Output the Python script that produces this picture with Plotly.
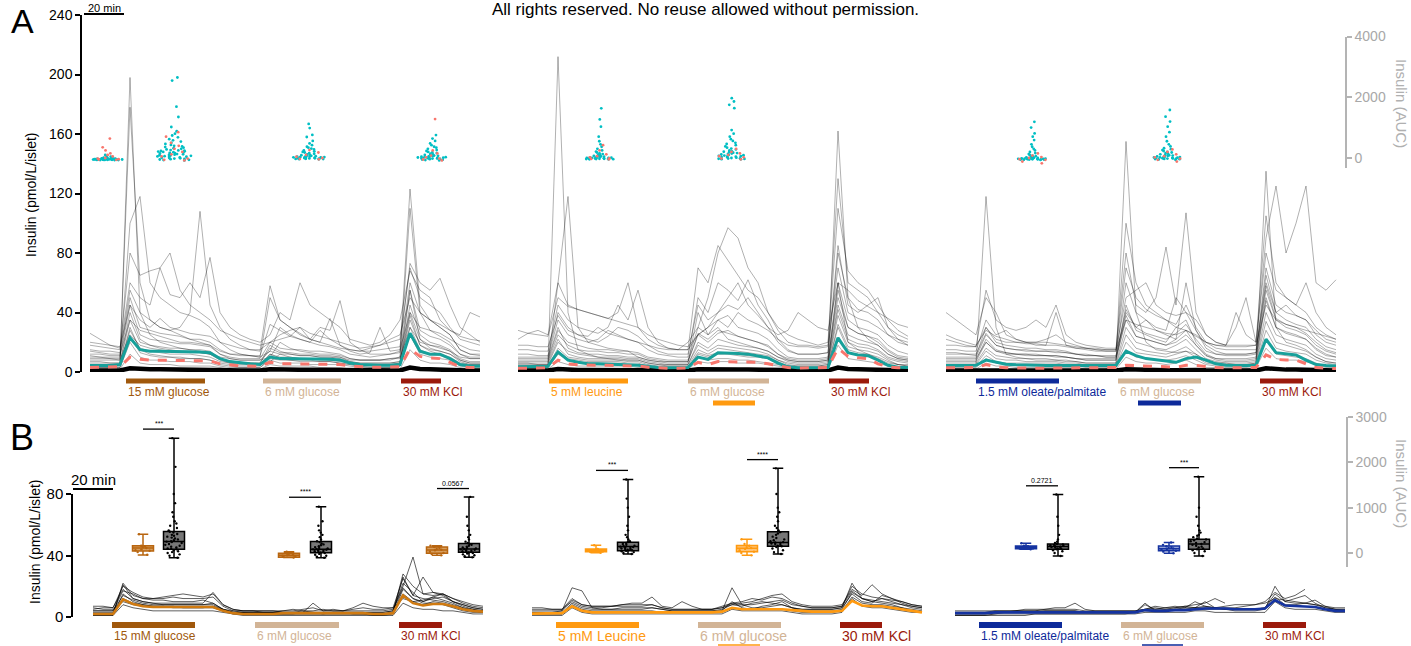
import plotly.graph_objects as go

W, H = 1411, 646
def fx(px): return px / W
def fy(px): return 1 - px / H

FONT = "Arial, Liberation Sans, sans-serif"

# ---------------- time grid (minutes) ----------------
t = list(range(0, 200, 5))          # 40 samples per experiment
a_t0 = [45, 259, 473]               # start of each experiment on the shared time axis (panel A)
b_t0 = [46.5, 266, 477.5]           # panel B

# ---------------- panel A : individual islet traces (pmol/L/islet) ----------------
a1_traces = [
    [5,5,5,5,198,40,25,20,18,16,15,14,12,9,7,6,6,5,7,12,10,9,9,8,8,7,6,5,5,5,5,6,55,22,16,14,12,8,6,6],
    [8,8,8,8,178,60,35,30,28,25,22,20,18,12,9,8,8,8,10,20,16,14,13,12,12,11,9,8,8,8,8,10,110,40,28,24,20,12,9,9],
    [10,10,9,9,100,118,60,50,45,40,38,35,30,20,15,12,11,10,14,30,25,22,20,18,17,15,12,11,10,11,12,14,123,45,35,30,25,15,12,11],
    [26,22,18,16,60,50,45,70,80,55,45,40,35,28,25,22,20,18,20,25,28,30,26,24,22,18,15,14,16,18,20,22,70,50,45,40,30,22,20,18],
    [15,14,14,13,55,40,35,30,28,30,40,108,45,30,22,18,15,14,58,35,30,26,22,20,18,16,15,14,14,15,16,17,73,60,55,63,45,30,25,20],
    [18,17,16,15,80,65,68,70,52,50,60,50,77,40,30,25,22,20,25,40,35,60,45,40,35,30,22,20,18,20,25,35,68,55,50,35,28,25,40,37],
    [12,12,11,11,50,30,28,26,25,24,22,22,20,15,12,11,11,10,50,35,30,25,22,30,28,48,20,15,12,12,12,13,60,40,35,30,25,15,12,12],
    [6,6,6,6,40,22,18,16,15,14,14,13,12,8,6,6,6,6,18,14,12,11,11,10,10,9,7,6,6,6,6,7,45,25,20,18,15,9,7,7],
    [4,4,4,4,30,15,12,11,10,10,9,9,8,6,5,4,4,4,12,9,8,8,8,7,7,6,5,4,4,4,4,5,35,18,14,12,10,6,5,5],
    [3,3,3,3,20,10,8,8,7,7,7,6,6,4,3,3,3,3,8,6,6,6,5,5,5,5,4,3,3,3,3,4,25,12,10,9,8,4,3,3],
    [2,2,2,2,12,6,5,5,5,4,4,4,4,3,2,2,2,2,5,4,4,4,4,3,3,3,2,2,2,2,2,2,15,8,6,6,5,3,2,2],
    [14,13,12,12,35,28,26,24,22,20,20,19,18,14,12,12,11,11,32,28,24,30,22,20,36,18,14,12,13,30,14,15,40,30,28,26,22,18,15,14],
    [20,19,18,17,45,35,30,36,30,28,26,25,24,20,18,16,15,15,20,22,24,22,20,28,22,20,18,16,17,18,22,25,50,40,35,32,28,24,22,21],
    [9,9,9,8,25,18,16,15,14,14,13,13,12,10,9,8,8,8,14,12,12,11,11,10,10,10,8,8,8,8,9,9,30,20,18,16,14,10,9,9],
    [7,7,6,6,35,20,18,17,16,16,15,15,14,9,7,6,6,6,16,13,13,12,12,11,11,10,7,6,6,6,6,7,40,22,18,17,14,8,6,6],
    [11,10,10,10,45,25,22,21,20,19,19,18,17,12,10,9,9,9,20,16,15,15,14,14,13,12,9,8,8,8,9,10,55,28,24,22,18,12,10,10],
    [5,5,5,5,28,16,14,13,12,12,12,11,10,7,6,5,5,5,12,10,10,9,9,9,8,8,6,5,5,5,5,6,38,18,15,14,12,7,5,5],
    [3,3,3,3,24,13,11,10,10,9,9,9,8,5,4,3,3,3,9,8,8,7,7,7,7,6,5,4,3,3,3,4,30,15,12,11,9,5,4,4],
]
a2_traces = [
    [4,4,4,4,212,40,15,12,10,9,9,8,8,6,5,4,4,4,10,8,9,9,8,8,7,6,5,4,4,4,4,5,60,20,15,12,9,6,5,5],
    [6,6,5,5,60,118,30,20,18,16,15,14,10,8,7,6,6,6,40,25,30,22,20,18,16,14,10,8,7,7,7,8,162,50,30,22,18,12,9,8],
    [22,26,28,25,60,45,42,40,38,36,40,60,30,22,18,16,15,20,30,50,80,97,90,70,60,40,30,25,22,20,18,20,130,60,55,50,40,30,25,22],
    [15,15,14,14,45,35,30,28,26,30,45,35,55,30,20,16,15,15,70,60,85,75,65,55,50,40,28,20,18,18,17,18,110,68,60,55,45,35,28,24],
    [10,10,10,10,35,25,22,20,22,28,25,22,20,15,12,11,10,10,50,40,60,55,48,62,45,35,22,15,12,12,12,13,80,50,42,40,35,25,20,18],
    [8,8,8,8,28,20,18,16,15,15,14,14,13,10,9,8,8,8,30,25,35,38,30,28,26,22,15,10,9,9,9,10,60,35,30,28,25,18,14,12],
    [5,5,5,5,20,14,12,11,10,10,10,9,9,7,6,5,5,5,20,16,22,20,18,17,16,14,10,7,6,6,6,7,45,25,22,20,18,12,9,8],
    [3,3,3,3,12,8,7,6,6,6,6,5,5,4,3,3,3,3,12,10,12,12,11,10,10,9,6,4,3,3,3,4,30,15,13,12,10,7,5,4],
    [2,2,2,2,7,5,4,4,4,4,4,4,3,3,2,2,2,2,7,6,7,7,6,6,6,5,4,3,2,2,2,2,18,9,8,7,6,4,3,3],
    [28,26,25,24,50,44,42,40,38,36,34,32,30,25,22,20,18,17,25,30,40,45,42,50,40,30,25,28,40,35,30,28,60,55,48,44,40,36,32,30],
    [12,12,11,11,40,30,25,22,20,24,30,28,24,18,14,12,12,12,45,35,40,50,60,45,38,30,20,14,12,12,12,13,85,45,40,45,50,30,22,18],
    [18,18,17,17,38,28,25,24,30,26,24,22,20,18,16,15,15,15,25,30,35,30,40,35,32,28,22,18,17,17,16,17,70,40,36,34,30,25,22,20],
    [7,7,7,7,25,18,15,14,14,13,13,12,12,9,8,7,7,7,25,20,26,28,24,22,20,18,12,9,8,8,8,9,50,30,26,24,22,15,11,10],
    [4,4,4,4,16,10,9,8,8,8,8,7,7,5,4,4,4,4,15,12,16,15,14,13,12,11,8,5,4,4,4,5,38,20,17,16,14,9,7,6],
    [6,6,6,6,22,12,10,9,9,9,8,8,8,6,5,5,5,5,18,14,18,17,16,15,14,12,8,6,5,5,5,6,42,22,19,18,15,10,8,7],
    [9,9,9,9,30,16,13,12,12,11,11,10,10,8,7,7,7,7,26,22,28,26,24,22,20,17,12,8,7,7,7,8,55,30,26,24,20,14,10,9],
    [3,3,3,3,14,9,8,7,7,7,7,6,6,4,3,3,3,3,13,11,13,13,12,11,11,10,7,4,3,3,3,4,32,17,15,14,12,8,5,4],
]
a3_traces = [
    [5,5,5,5,118,30,12,10,9,8,8,8,7,7,6,6,6,6,155,40,20,15,14,13,14,12,8,6,6,5,5,6,135,30,20,18,15,10,7,6],
    [40,35,30,25,50,40,25,22,20,20,22,25,20,18,16,15,14,14,100,60,45,40,35,30,28,25,20,18,18,30,50,20,105,60,50,45,40,30,25,22],
    [22,20,18,17,55,35,30,28,30,35,30,45,25,20,18,17,16,16,80,45,40,50,84,45,107,40,25,20,18,18,18,18,90,125,80,100,125,60,55,62],
    [12,12,12,11,30,20,18,17,16,16,15,15,14,12,11,11,10,10,60,40,35,30,28,50,40,28,18,14,12,12,12,13,70,45,40,38,35,25,20,18],
    [8,8,8,8,22,15,13,12,12,12,11,11,10,9,8,8,8,8,45,28,25,22,20,30,35,20,12,9,8,8,8,9,55,35,30,28,25,18,14,12],
    [6,6,6,6,16,11,10,9,9,9,9,8,8,7,6,6,6,6,30,20,18,16,15,18,22,15,9,7,6,6,6,7,40,25,22,20,18,12,9,8],
    [4,4,4,4,11,7,6,6,6,6,6,6,5,5,4,4,4,4,20,13,12,11,10,12,14,10,6,5,4,4,4,5,28,16,14,13,12,8,6,5],
    [2,2,2,2,6,4,4,3,3,3,3,3,3,3,2,2,2,2,10,7,6,6,5,6,8,5,3,3,2,2,2,3,16,9,8,8,7,5,3,3],
    [15,15,14,14,35,25,28,22,20,18,18,40,18,16,15,14,14,14,70,50,42,38,35,32,45,30,20,16,15,15,15,15,60,40,45,38,35,28,22,20],
    [18,18,17,17,30,22,20,20,19,19,18,18,17,16,16,15,15,15,50,55,60,45,40,38,40,35,25,20,18,40,25,20,80,55,50,45,60,40,30,25],
    [10,10,10,10,25,18,16,15,14,14,14,13,13,12,11,11,10,10,40,30,35,28,25,22,60,28,16,12,11,11,11,12,65,40,35,32,30,22,17,15],
    [25,22,20,18,28,24,22,20,20,20,20,19,18,17,16,16,15,15,35,32,30,28,26,25,28,24,20,18,17,17,17,18,45,35,32,30,28,26,24,22],
    [7,7,7,7,20,14,12,12,11,11,11,10,10,9,8,8,8,8,38,24,22,20,18,20,25,18,11,8,7,7,7,8,48,30,26,24,22,15,11,10],
    [3,3,3,3,9,6,5,5,5,5,5,5,4,4,3,3,3,3,15,10,9,8,8,9,11,8,5,4,3,3,3,4,22,12,11,10,9,6,4,4],
    [5,5,5,5,14,9,8,8,7,7,7,7,6,6,5,5,5,5,25,16,14,13,12,14,17,12,7,6,5,5,5,6,34,20,18,16,14,10,7,6],
    [9,9,9,9,20,14,13,12,12,11,11,11,10,9,9,9,9,9,35,24,22,20,18,22,28,18,11,9,9,9,9,10,50,30,27,25,22,16,12,10],
    [13,13,12,12,26,18,16,15,15,14,14,14,13,12,12,11,11,11,42,30,26,24,22,26,32,22,14,12,12,12,12,13,58,36,32,30,26,20,15,13],
]
# dense low-secreting band, mean (teal) and median (salmon, dashed)
a_black = [
    [1,1,1,1,2.5,2,1.8,1.8,1.8,1.8,1.8,1.8,1.6,1.3,1.1,1,1,1,1.8,1.5,1.5,1.5,1.5,1.4,1.4,1.4,1.2,1,1,1,1,1,3,2,1.8,1.8,1.4,1.1,1,1],
    [1,1,1,1,2,1.4,1.3,1.3,1.3,1.2,1.2,1.2,1.1,1,1,1,1,1,1.8,1.6,1.8,1.8,1.7,1.6,1.6,1.5,1.2,1,1,1,1,1,3,2,1.8,1.7,1.4,1.1,1,1],
    [1,1,1,1,1.5,1.2,1,1,1,1,1,1,1,1,1,1,1,1,1.8,1.5,1.4,1.3,1.2,1.2,1.5,1.3,1.1,1,1,1,1,1,2.5,1.8,1.6,1.6,1.3,1,1,1],
]
a_mean = [
    [4.3,4.3,4.3,5,23,15,14,14,14,14,14,13.5,13,9,7,6,5.5,5,10,9,9,9,9,8.5,8.5,8,6,5,4.5,4.5,4.5,5,26,14,12,12,9,5,4,4],
    [3.6,3.6,3.6,3.8,13.5,8,6.5,5.5,5.5,5.2,5,5,4.5,3.8,3,2.8,2.8,3,10,8.5,13,13,12.5,12,10.5,9.5,6,3.5,2.8,2.8,2.8,3,23,13,11.5,11,8,4.5,3.2,3],
    [4.3,4.3,4.3,4.5,8,6.5,5.2,4.8,4.5,4.3,4.3,4.3,4.3,4.3,4.3,4.3,4.3,4.4,14,11,9,8,7,6.5,9,10,8,5.5,4.5,4.3,4.3,4.5,22,13,12,11.5,8,5,4.3,4],
]
a_median = [
    [3,3,3,3.5,10,8.5,8,8,8,8,8,7.5,7.5,5.5,4.5,4,4,3.8,6.5,5.5,5.5,5.5,5.5,5.5,5.5,5,4,3.5,3.2,3.2,3.2,3.5,15.5,10.5,9.5,9,6.5,3.5,3,3],
    [2.5,2.5,2.5,2.8,8,5.5,4.8,4.5,4.5,4.5,4.3,4.2,4,3.2,2.7,2.5,2.5,2.7,6.5,5,7,7,7,6.8,6.5,5.5,4,3,2.7,2.7,2.7,3,16,10.5,9.5,9,5.5,3.5,2.8,2.7],
    [2.8,2.8,2.8,3,5,3.5,2.8,2.6,2.6,2.6,2.6,2.6,2.6,2.6,2.6,2.6,2.7,3,4.5,4.3,4.3,4,3.5,3.2,4.5,4.5,3.5,3,2.8,2.8,2.8,3,11.5,8.5,8,8,5.5,3,2.5,2.3],
]

# ---------------- panel A : AUC swarms ----------------
swarm_x = [54, 87.5, 155, 216.5, 300, 366, 516.5, 584]
swarm_w = [16, 18, 17, 17, 17, 17, 17, 17]
swarm_teal = [
    [-70,-68,-66,-65,-63,-62,-60,-60,-58,-57,-55,-55,-53,-52,-50,-50,-50,-48,-47,-45,-45,-43,-42,-40,-40,-40,-38,-37,-35,-35,
     -33,-32,-30,-30,-28,-25,-22,-20,-20,-15,-10,-5,0,10,20,40,70,100],
    [-80,-70,-60,-50,-40,-30,-20,-10,0,10,20,30,40,50,60,70,80,90,100,110,120,130,140,150,160,170,180,190,200,210,220,230,
     240,250,260,280,300,320,340,360,380,400,430,460,500,540,580,620,680,740,800,880,1020,1350,1690,2550,2650],
    [-45,-40,-35,-30,-25,-20,-15,-10,-5,0,5,10,15,20,25,30,35,40,45,50,60,70,80,90,100,120,140,160,180,200,220,250,280,310,
     340,370,420,480,560,690,760,985,1120],
    [-80,-70,-60,-50,-40,-30,-20,-15,-10,-5,0,5,10,15,20,25,30,40,50,60,70,80,90,100,120,140,160,180,200,230,260,300,340,
     370,420,480,560,640,755],
    [-45,-42,-40,-37,-35,-30,-27,-25,-20,-15,-10,-5,0,0,5,10,15,20,25,30,40,50,60,70,90,110,130,150,180,210,250,300,370,
     450,550,700,1030,1270,1635],
    [-45,-40,-30,-25,-20,-10,0,10,20,30,40,50,60,70,80,90,100,115,130,145,160,175,190,205,220,250,280,310,340,380,420,460,
     500,560,620,700,800,920,1640,1750,1860,1970],
    [-65,-60,-55,-52,-50,-48,-45,-42,-40,-38,-35,-32,-30,-28,-25,-22,-20,-15,-10,-5,0,5,10,20,30,40,60,80,100,130,160,200,
     250,300,370,450,590,700,810,1000,1190],
    [-60,-50,-40,-35,-30,-25,-20,-15,-10,-5,0,5,10,15,20,30,40,50,60,70,80,90,100,120,140,160,180,200,230,260,290,320,380,
     450,550,700,850,1030,1200,1360,1580],
]
swarm_salmon = [
    [-60,-50,-40,-20,0,50,100,150,250,350,640],
    [-80,-60,-20,50,120,200,300,400,500,700,850],
    [-45,-30,0,40,100,180,260],
    [-80,-50,-20,20,80,150,250,1280],
    [-45,-30,-10,20,60,120,250,420],
    [-45,-20,20,60,100,150,200,300],
    [-175,-120,-60,-40,0,30,80,150],
    [-120,-60,-20,20,60,120,200,280],
]

# ---------------- stimulus bars ----------------
a_stim_sub = [0,0,0, 1,1,1,1, 2,2,2,2]
a_stim_start = [18,86.5,155.5, 15.5,85,97.5,155.5, 15,86,96,157]
a_stim_end = [57.5,125.5,175.5, 55,125.5,118.5,175.5, 56.5,127.5,117.5,178.5]
a_stim_row = [0,0,0, 0,0,1,0, 0,0,1,0]
a_stim_label = ["15 mM glucose","6 mM glucose","30 mM KCl","5 mM leucine","6 mM glucose","","30 mM KCl",
                "1.5 mM oleate/palmitate","6 mM glucose","","30 mM KCl"]
C_G15, C_G6, C_KCL, C_LEU, C_OP = "#A0580C", "#D2B496", "#9B1A0C", "#FF9A10", "#0D2A9A"
a_stim_color = [C_G15,C_G6,C_KCL, C_LEU,C_G6,C_LEU,C_KCL, C_OP,C_G6,C_OP,C_KCL]

b_stim_sub = [0,0,0, 1,1,1,1, 2,2,2,2]
b_stim_start = [9.5,81,153, 12,83,93,154, 12,83,93.5,154]
b_stim_end = [51,123,174.5, 53.5,124.5,114,175, 53.5,124.5,114,175.5]
b_stim_row = [0,0,0, 0,0,1,0, 0,0,1,0]
b_stim_label = ["15 mM glucose","6 mM glucose","30 mM KCl","5 mM Leucine","6 mM glucose","","30 mM KCl",
                "1.5 mM oleate/palmitate","6 mM glucose","","30 mM KCl"]
b_stim_color = a_stim_color
b_label_size = [12, 14, 12]

# ---------------- panel B : traces ----------------
b1_traces = [
    [2,2,2,22,14,12,11,11,10,10,10,11,9,5,3,3,3,3,3,3,3,4,3,3,3,3,3,3,2,2,3,28,20,15,16,14,10,8,6,5],
    [5,6,6,20,16,13,12,13,14,15,14,13,15,8,5,4,4,4,4,4,5,4,4,5,4,4,4,4,4,4,5,20,39,15,14,15,12,9,7,6],
    [7,7,6,18,12,10,9,9,9,9,9,9,16,8,5,4,4,4,4,3,3,3,9,4,4,4,6,9,7,6,6,25,14,26,16,15,12,10,8,7],
    [1,1,1,15,10,8,7,7,7,7,7,7,7,4,2,2,2,2,2,2,2,2,2,2,2,2,2,2,1,1,2,18,12,9,9,8,6,4,3,3],
    [3,3,3,12,9,8,7,7,6,6,6,6,6,4,3,3,2,2,2,2,2,3,3,2,3,3,2,2,2,2,3,15,10,8,10,9,7,5,4,4],
    [4,4,4,17,15,12,12,12,13,12,12,12,13,7,4,3,3,3,3,3,3,3,3,3,3,3,3,3,3,3,4,22,16,10,12,13,10,8,6,5],
    [6,5,5,10,8,7,7,7,7,6,6,6,7,5,4,4,4,3,3,4,4,5,6,4,5,4,5,6,5,5,6,12,10,11,13,15,10,7,5,4],
    [2,2,2,21,12,10,9,8,8,8,8,8,9,5,3,2,2,2,2,2,2,2,2,2,2,2,2,2,2,2,3,26,14,12,11,10,8,6,4,3],
    [1,1,1,8,6,5,4,4,4,4,4,4,4,3,2,1,1,1,1,1,1,1,1,1,1,1,1,1,1,1,1,9,6,5,5,4,4,3,2,2],
    [4,4,4,14,11,9,8,8,8,8,8,8,8,5,3,3,3,3,3,3,3,3,3,3,3,3,3,3,3,3,4,19,12,10,13,11,9,6,5,4],
]
b2_traces = [
    [3,3,3,4,19,17,6,5,5,5,5,5,6,5,4,4,4,4,4,4,19,8,6,6,7,8,6,5,5,5,5,6,22,12,10,9,8,6,5,4],
    [5,5,5,5,10,7,6,6,7,8,9,9,13,7,6,10,7,5,5,6,8,9,10,12,14,15,10,8,7,7,7,8,18,14,21,15,12,10,8,7],
    [2,2,2,2,8,5,4,4,4,4,4,4,4,3,3,3,3,3,3,4,10,6,5,7,8,10,6,4,4,4,4,5,16,12,10,12,10,8,6,5],
    [4,4,4,4,11,8,7,7,7,8,8,8,8,6,5,5,5,5,5,6,9,10,12,11,13,12,9,7,6,6,6,7,20,15,13,12,11,10,8,7],
    [1,1,1,1,6,3,2,2,2,2,2,2,2,2,2,2,2,2,2,2,5,4,4,4,4,4,3,2,2,2,2,3,12,7,6,6,5,4,3,3],
    [3,3,3,3,9,6,5,5,5,6,6,6,6,5,4,4,4,4,4,5,8,7,9,10,9,8,6,5,5,5,5,6,15,10,9,14,12,9,7,6],
    [6,6,5,5,12,8,7,7,7,7,7,7,8,6,5,5,5,5,5,7,9,8,8,9,10,11,8,7,6,6,6,7,17,12,11,10,9,8,7,6],
    [2,2,2,2,7,4,3,3,3,3,3,3,3,3,3,3,3,3,3,3,6,5,5,5,5,5,4,3,3,3,3,4,13,9,8,8,7,6,4,3],
]
b3_traces = [
    [3,3,3,3,4,4,4,5,5,5,6,6,9,5,4,4,4,4,4,5,7,6,6,7,8,9,12,9,None,None,None,None,None,None,None,None,None,None,None,None],
    [1,1,1,1,2,2,2,2,2,2,2,2,2,2,2,2,2,2,3,9,4,4,5,5,6,10,6,5,4,4,4,5,20,10,12,14,9,6,5,5],
    [2,2,2,2,3,3,3,3,3,3,3,3,3,3,3,3,3,3,3,5,5,6,7,6,10,7,6,6,6,7,8,10,16,12,14,18,None,None,None,None],
    [3,3,3,3,3,3,4,4,4,4,4,4,4,3,3,3,3,3,3,4,4,4,5,5,5,5,5,5,5,5,5,6,15,10,9,9,8,6,5,5],
    [1,1,1,1,1,1,1,1,2,2,2,2,2,2,2,2,2,2,2,3,3,3,3,3,4,4,3,3,3,3,3,3,10,6,5,5,5,4,3,3],
    [2,2,2,2,2,3,3,3,3,4,4,4,4,3,3,3,3,3,3,8,5,5,6,7,6,7,6,5,5,5,5,6,13,8,8,9,11,7,5,4],
    [4,4,4,4,4,4,4,4,4,5,5,5,5,4,4,4,4,4,4,5,6,5,5,6,6,6,6,7,8,8,8,9,12,11,10,9,8,7,6,6],
]
b_mean = [
    [2,2,2,11.5,8.5,7,6.5,6.5,6.5,6.5,6.5,6.5,6.5,4,2.5,2,2,2,2,2.5,2.5,2.5,2.5,2.5,2.5,2.5,2.5,2.5,2,2,2.5,14,9,7.5,8.5,8.5,7,5,4,3.5],
    [2.2,2.2,2.2,2.5,7,4,3,3,3,3,3,3,3,3,3,3,3,3,3,3.5,6,5,5,5,5,5,4.5,4,3.5,3.5,3.5,4,10.5,7.5,7,7,6,5,4,3],
    [2.5,2.5,2.5,2.5,3,3,3,3,3,3,3.2,3.2,3.2,3,3,3,3,3,3,4.5,4,4,4.5,4.5,5,5.5,5.5,5.5,5,5,5,5.5,11,7.5,7.2,7.2,6.5,5,4,4],
]
b_mean_color = ["#D07A10", "#FF9A10", "#1533A0"]

# ---------------- panel B : AUC box plots ----------------
box_x = [71.5, 87, 144.5, 160.5, 218.5, 234.5, 298, 314, 373.5, 389, 513, 529, 584.5, 599.5]
box_kind = ["c1","k","c1","k","c1","k","c2","k","c2","k","c3","k","c3","k"]
box_lower = [-44,-104,-100,-104,-52,-96, 7,-22,-52,-22, 82,-67,-7,-67]
box_q1 = [44,82,-96,7,-7,15, 30,52,30,148, 96,82,52,82]
box_med = [111,251,-50,82,67,89, 59,141,104,230, 126,141,96,200]
box_q3 = [162,473,-7,251,133,207, 89,237,163,467, 155,200,155,304]
box_upper = [415,2533,30,1022,162,1237, 170,1622,304,1867, 215,1290,230,1682]
box_pts = [
    [-40,20,50,80,110,130,150,160,415,60],
    [-104,-60,-30,0,20,40,60,80,90,100,120,140,160,180,200,220,240,250,260,280,300,320,340,360,380,400,420,450,470,500,550,600,650,700,800,900,1100,1300,1900,2533],
    [-100,-90,-80,-60,-50,-40,-20,0,30],
    [-104,-80,-60,-40,-20,0,10,20,30,40,50,60,70,80,90,100,110,130,150,170,190,210,240,260,300,350,400,450,500,600,700,1022],
    [-52,-20,0,30,60,70,90,110,130,162],
    [-96,-70,-50,-30,-10,0,10,20,30,40,50,60,70,80,90,100,110,120,140,160,180,200,220,250,300,350,400,500,600,800,1237],
    [7,20,30,40,50,60,70,89,170],
    [-22,0,20,40,50,60,70,80,90,100,110,120,130,140,150,160,180,200,220,240,260,300,350,400,500,600,800,1000,1200,1622],
    [-52,0,30,60,90,110,130,160,200,304],
    [-22,20,60,100,130,150,160,180,200,210,220,230,240,260,280,300,330,360,400,430,460,500,550,600,700,800,900,1000,1300,1867],
    [82,90,100,110,120,130,140,150,160,215],
    [-67,0,40,60,80,90,100,110,120,130,140,150,160,170,180,190,200,220,250,300,400,600,800,1290],
    [-7,30,50,70,90,100,110,130,150,180,230],
    [-67,0,40,60,80,100,120,140,160,180,200,220,240,260,280,300,320,350,380,400,450,500,600,800,1000,1682],
]
box_style = {
    "c1": ("#B8650F", "rgba(205,135,55,0.8)", "#B8650F"),
    "c2": ("#FF9A10", "rgba(255,170,60,0.7)", "#FF9A10"),
    "c3": ("#1533A0", "rgba(60,90,190,0.55)", "#1533A0"),
    "k": ("#000000", "rgba(95,95,95,0.85)", "#000000"),
}
sig_x0 = [71.5, 144.5, 218.5, 298, 373.5, 513, 584.5]
sig_x1 = [87, 160.5, 234.5, 314, 389, 529, 599.5]
sig_y = [2733, 1230, 1422, 1822, 2060, 1482, 1882]
sig_text = ["***", "****", "0.0567", "***", "****", "0.2721", "***"]

# ================= figure =================
fig = go.Figure()

A_GREY = "rgba(0,0,0,0.35)"
for k, group in enumerate([a1_traces, a2_traces, a3_traces]):
    xs = [a_t0[k] + v for v in t]
    for tr in group:
        fig.add_trace(go.Scatter(x=xs, y=tr, mode="lines", line=dict(color=A_GREY, width=0.9),
                                 xaxis="x", yaxis="y", hoverinfo="skip"))
for k in range(3):
    xs = [a_t0[k] + v for v in t]
    fig.add_trace(go.Scatter(x=xs, y=a_black[k], mode="lines", line=dict(color="black", width=4.5),
                             xaxis="x", yaxis="y"))
    fig.add_trace(go.Scatter(x=xs, y=a_mean[k], mode="lines", line=dict(color="#17A09A", width=3),
                             xaxis="x", yaxis="y"))
    fig.add_trace(go.Scatter(x=xs, y=a_median[k], mode="lines",
                             line=dict(color="#F8766D", width=3, dash="dash"),
                             xaxis="x", yaxis="y"))

for i in range(len(swarm_x)):
    for vals, col in [(swarm_teal[i], "#00BFC4"), (swarm_salmon[i], "#F8766D")]:
        fig.add_trace(go.Box(x=[swarm_x[i]] * len(vals), y=vals, width=swarm_w[i],
                             boxpoints="all", jitter=1, pointpos=0,
                             fillcolor="rgba(0,0,0,0)", line=dict(width=0),
                             marker=dict(color=col, size=2.8),
                             xaxis="x", yaxis="y2", hoverinfo="skip"))

for k, group in enumerate([b1_traces, b2_traces, b3_traces]):
    xs = [b_t0[k] + v for v in t]
    for tr in group:
        fig.add_trace(go.Scatter(x=xs, y=tr, mode="lines", line=dict(color="rgba(0,0,0,0.7)", width=0.9),
                                 xaxis="x2", yaxis="y3", connectgaps=False))
    fig.add_trace(go.Scatter(x=xs, y=b_mean[k], mode="lines", line=dict(color=b_mean_color[k], width=2.6),
                             xaxis="x2", yaxis="y3"))

for i in range(len(box_x)):
    lc, fc, pc = box_style[box_kind[i]]
    fig.add_trace(go.Box(x=[box_x[i]], q1=[box_q1[i]], median=[box_med[i]], q3=[box_q3[i]],
                         lowerfence=[box_lower[i]], upperfence=[box_upper[i]],
                         width=10.5, whiskerwidth=0.5, boxpoints=False,
                         line=dict(color=lc, width=1.5), fillcolor=fc,
                         xaxis="x2", yaxis="y4"))
    pts = box_pts[i]
    fig.add_trace(go.Box(x=[box_x[i]] * len(pts), y=pts, width=10.5,
                         boxpoints="all", jitter=0.85, pointpos=0,
                         fillcolor="rgba(0,0,0,0)", line=dict(width=0),
                         marker=dict(color=pc, size=2.4),
                         xaxis="x2", yaxis="y4", hoverinfo="skip"))

# ---------------- shapes & annotations ----------------
shapes, ann = [], []

def bar(xref, x0, x1, ypx, color, width):
    shapes.append(dict(type="line", xref=xref, yref="paper", x0=x0, x1=x1, y0=fy(ypx), y1=fy(ypx),
                       line=dict(color=color, width=width)))

for i in range(len(a_stim_start)):
    off = a_t0[a_stim_sub[i]]
    ypx = 381 if a_stim_row[i] == 0 else 403
    bar("x", off + a_stim_start[i], off + a_stim_end[i], ypx, a_stim_color[i], 5)
    if a_stim_label[i]:
        ann.append(dict(xref="x", yref="paper", x=off + a_stim_start[i], y=fy(392), text=a_stim_label[i],
                        showarrow=False, xanchor="left", yanchor="middle",
                        font=dict(family=FONT, size=12, color=a_stim_color[i])))

for i in range(len(b_stim_start)):
    off = b_t0[b_stim_sub[i]]
    if b_stim_row[i] == 0:
        bar("x2", off + b_stim_start[i], off + b_stim_end[i], 625, b_stim_color[i], 6)
    else:
        bar("x2", off + b_stim_start[i], off + b_stim_end[i], 645, b_stim_color[i], 1.5)
    if b_stim_label[i]:
        ann.append(dict(xref="x2", yref="paper", x=off + b_stim_start[i], y=fy(636), text=b_stim_label[i],
                        showarrow=False, xanchor="left", yanchor="middle",
                        font=dict(family=FONT, size=b_label_size[b_stim_sub[i]], color=b_stim_color[i])))

# significance brackets
for i in range(len(sig_y)):
    shapes.append(dict(type="line", xref="x2", yref="y4", x0=sig_x0[i], x1=sig_x1[i], y0=sig_y[i], y1=sig_y[i],
                       line=dict(color="black", width=1.3)))
    ann.append(dict(xref="x2", yref="y4", x=(sig_x0[i] + sig_x1[i]) / 2, y=sig_y[i], text=sig_text[i],
                    showarrow=False, xanchor="center", yanchor="bottom",
                    font=dict(family=FONT, size=7, color="black")))

# scale bars (20 min)
bar("x", 42, 62, 14, "black", 2)
ann.append(dict(xref="x", yref="paper", x=52, y=fy(0), text="20 min", showarrow=False,
                xanchor="center", yanchor="top", font=dict(family=FONT, size=11, color="black")))
bar("x2", 36.5, 56.5, 489, "black", 2)
ann.append(dict(xref="x2", yref="paper", x=46.5, y=fy(479), text="20 min", showarrow=False,
                xanchor="center", yanchor="middle", font=dict(family=FONT, size=15, color="black")))

def pann(xp, yp, text, size, color="black", angle=0, yanchor="middle"):
    ann.append(dict(xref="paper", yref="paper", x=fx(xp), y=fy(yp), text=text, textangle=angle,
                    showarrow=False, xanchor="center", yanchor=yanchor,
                    font=dict(family=FONT, size=size, color=color)))

pann(22, 0, "A", 34, yanchor="top")
pann(22, 438, "B", 36)
pann(705, 9, "All rights reserved. No reuse allowed without permission.", 17)
pann(31, 195, "Insulin (pmol/L/islet)", 14, angle=-90)
pann(35, 542, "Insulin (pmol/L/islet)", 14, angle=-90)
pann(1402, 103, "Insulin (AUC)", 15, "#b0b0b0", 90)
pann(1402, 483, "Insulin (AUC)", 15, "#b0b0b0", 90)

left_axis = dict(showline=True, linecolor="black", linewidth=1.5, ticks="outside", ticklen=5,
                 tickwidth=1.5, tickcolor="black", showgrid=False, zeroline=False, anchor="free",
                 tickfont=dict(family=FONT, size=14, color="black"), automargin=False)
right_axis = dict(showline=True, linecolor="#b4b4b4", linewidth=1.5, ticks="outside", ticklen=5,
                  tickwidth=1.5, tickcolor="#b4b4b4", showgrid=False, zeroline=False, anchor="free",
                  side="right", tickfont=dict(family=FONT, size=14, color="#a8a8a8"), automargin=False)

fig.update_layout(
    width=W, height=H, margin=dict(l=0, r=0, t=0, b=0),
    paper_bgcolor="white", plot_bgcolor="rgba(0,0,0,0)", showlegend=False, boxmode="overlay",
    xaxis=dict(domain=[0, 1], range=[0, W / 2], visible=False, anchor="y"),
    xaxis2=dict(domain=[0, 1], range=[0, W / 2], visible=False, anchor="y3"),
    yaxis=dict(domain=[fy(372), fy(15)], range=[0, 240], tickvals=[0, 40, 80, 120, 160, 200, 240],
               position=fx(81), **left_axis),
    yaxis2=dict(domain=[fy(168), fy(36.5)], range=[-330, 4000], tickvals=[0, 2000, 4000],
                position=fx(1346), **right_axis),
    yaxis3=dict(domain=[fy(617), fy(494)], range=[0, 80], tickvals=[0, 40, 80],
                position=fx(72), **{**left_axis, "tickfont": dict(family=FONT, size=15, color="black")}),
    yaxis4=dict(domain=[fy(567), fy(417)], range=[-309, 3000], tickvals=[0, 1000, 2000, 3000],
                position=fx(1347), **right_axis),
    shapes=shapes, annotations=ann,
)

fig.write_html("out.html", config={"displayModeBar": False},
               post_script="document.body.style.margin='0px';document.body.style.overflow='hidden';")
